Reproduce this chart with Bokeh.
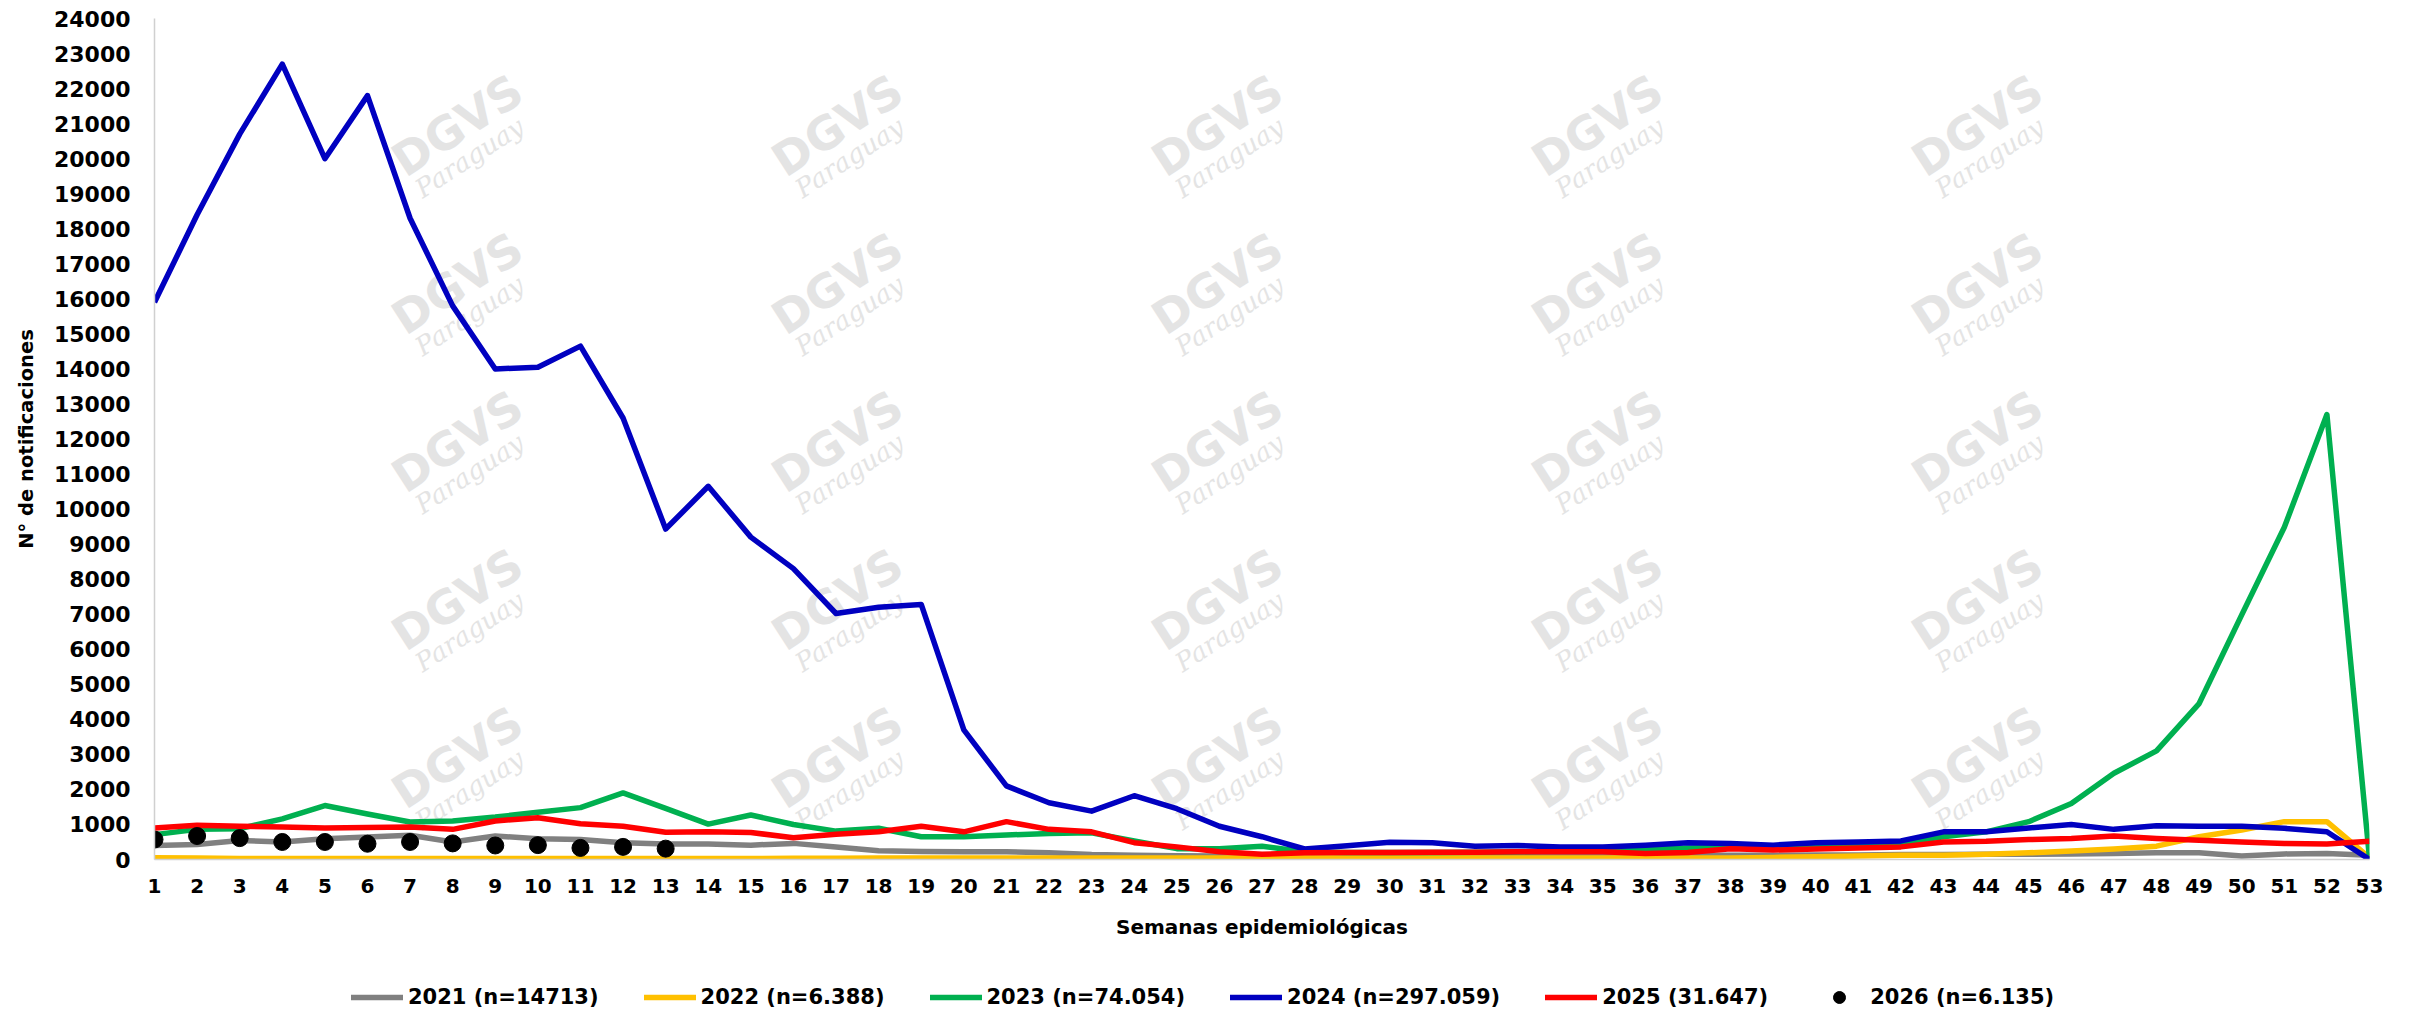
from bokeh.plotting import figure
from bokeh.models import Range1d, FixedTicker, Legend, LegendItem, Label
from bokeh.layouts import column
from bokeh.embed import file_html
from bokeh.resources import INLINE

weeks = list(range(1, 54))
y_ticks = list(range(0, 24001, 1000))

cases_2021 = [400, 430, 540, 500, 590, 640, 690, 500, 670, 590, 570, 480, 440,
              440, 410, 460, 360, 250, 230, 220, 220, 190, 140, 120, 110, 100,
              100, 100, 100, 100, 100, 100, 100, 100, 110, 110, 120, 120, 120,
              130, 130, 140, 140, 150, 150, 160, 170, 190, 190, 100, 160, 170, 120]
cases_2022 = [50, 40, 30, 30, 30, 30, 30, 30, 30, 30, 30, 30, 30,
              30, 30, 35, 35, 40, 40, 40, 40, 40, 40, 40, 40, 40,
              40, 40, 40, 40, 40, 40, 40, 40, 40, 40, 40, 45, 60,
              80, 100, 120, 120, 150, 190, 240, 300, 380, 650, 840, 1080, 1080, 50]
cases_2023 = [710, 860, 880, 1160, 1540, 1300, 1070, 1100, 1210, 1350, 1480, 1900, 1460,
              1010, 1270, 1000, 810, 890, 650, 650, 700, 740, 760, 530, 310, 310,
              380, 220, 200, 200, 200, 210, 220, 250, 280, 300, 330, 350, 360,
              380, 420, 470, 650, 790, 1080, 1600, 2460, 3100, 4450, 6980, 9480, 12700, 30]
cases_2024 = [15900, 18400, 20700, 22700, 20000, 21800, 18300, 15800, 14000, 14050, 14650, 12600, 9430,
              10650, 9200, 8300, 7020, 7200, 7280, 3700, 2100, 1620, 1380, 1820, 1450, 950,
              650, 300, 390, 490, 480, 380, 400, 360, 360, 410, 480, 460, 410,
              480, 500, 530, 790, 790, 900, 1000, 860, 960, 950, 950, 890, 790, 0]
cases_2025 = [900, 980, 950, 930, 900, 910, 930, 860, 1100, 1190, 1020, 950, 780,
              790, 770, 620, 720, 790, 950, 790, 1080, 860, 790, 480, 360, 220,
              150, 190, 200, 200, 210, 210, 220, 220, 220, 170, 200, 310, 270,
              300, 330, 360, 500, 520, 570, 600, 670, 600, 550, 500, 460, 440, 520]
weeks_2026 = list(range(1, 14))
cases_2026 = [570, 670, 610, 500, 500, 450, 500, 460, 400, 410, 330, 360, 310]

labels = ["2021 (n=14713)", "2022 (n=6.388)", "2023 (n=74.054)",
          "2024 (n=297.059)", "2025 (31.647)", "2026 (n=6.135)"]
colors = ["#808080", "#FFC000", "#00B050", "#0000C0", "#FF0000", "#000000"]

FONT = "DejaVu Sans"

p = figure(width=2410, height=960, output_backend="svg", toolbar_location=None,
           x_range=Range1d(1, 53), y_range=Range1d(0, 24000),
           min_border_left=154, min_border_right=41, min_border_top=18, min_border_bottom=101)
p.outline_line_color = None
p.background_fill_color = "white"
p.border_fill_color = "white"
p.xgrid.visible = False
p.ygrid.visible = False

# faint "DGVS Paraguay" watermark (pixel grid converted to data units)
px_per_week = (2369 - 154) / 52.0
px_per_case = (859 - 18) / 24000.0
for wx in (457, 837, 1217, 1597, 1977):
    for wy in (125, 283, 441, 599, 757):
        xd = 1 + (wx - 154) / px_per_week
        yd = (859 - wy) / px_per_case
        p.add_layout(Label(x=xd, y=yd, text="DGVS", angle=33, angle_units="deg",
                           text_font=FONT, text_font_style="bold", text_font_size="46px",
                           text_color="#e4e4e4", text_align="center", text_baseline="middle",
                           level="underlay"))
        xd2 = 1 + (wx + 12 - 154) / px_per_week
        yd2 = (859 - (wy + 32)) / px_per_case
        p.add_layout(Label(x=xd2, y=yd2, text="Paraguay", angle=33, angle_units="deg",
                           text_font="DejaVu Serif", text_font_style="italic", text_font_size="26px",
                           text_color="#e4e4e4", text_align="center", text_baseline="middle",
                           level="underlay"))

series = [cases_2021, cases_2022, cases_2023, cases_2024, cases_2025]
for vals, col in zip(series, colors[:5]):
    p.line(weeks, vals, line_color=col, line_width=5.5, line_join="round")
p.scatter(weeks_2026, cases_2026, size=17, fill_color="black", line_color="black")

# axes
p.xaxis.ticker = FixedTicker(ticks=weeks)
p.yaxis.ticker = FixedTicker(ticks=y_ticks)
for ax in (p.xaxis[0], p.yaxis[0]):
    ax.major_tick_line_color = None
    ax.minor_tick_line_color = None
    ax.major_tick_out = 0
    ax.major_tick_in = 0
    ax.axis_line_color = "#d0d0d0"
    ax.axis_line_width = 1.5
    ax.major_label_text_font = FONT
    ax.major_label_text_font_style = "bold"
    ax.major_label_text_color = "black"
    ax.axis_label_text_font = FONT
    ax.axis_label_text_font_style = "bold"
    ax.axis_label_text_color = "black"

p.yaxis.major_label_text_font_size = "22px"
p.yaxis.major_label_standoff = 24
p.yaxis.axis_label = "N° de notificaciones"
p.yaxis.axis_label_text_font_size = "19.5px"
p.yaxis.axis_label_standoff = 13

p.xaxis.major_label_text_font_size = "20px"
p.xaxis.major_label_standoff = 19
p.xaxis.axis_label = "Semanas epidemiológicas"
p.xaxis.axis_label_text_font_size = "20px"
p.xaxis.axis_label_standoff = 19

# legend strip below the chart (series drawn out of view, used only as legend glyphs)
pl = figure(width=2410, height=52, output_backend="svg", toolbar_location=None,
            x_range=Range1d(1, 53), y_range=Range1d(-2, -1),
            x_axis_location=None, y_axis_location=None, min_border=0)
pl.outline_line_color = None
pl.xgrid.visible = False
pl.ygrid.visible = False
items = []
for vals, lab, col in zip(series, labels[:5], colors[:5]):
    r = pl.line(weeks, vals, line_color=col, line_width=5.5, line_cap="round")
    items.append(LegendItem(label=lab, renderers=[r]))
rd = pl.scatter(weeks_2026, cases_2026, size=17, fill_color="black", line_color="black")
items.append(LegendItem(label=labels[5], renderers=[rd]))

legend = Legend(items=items, orientation="horizontal", location=(197, 0),
                glyph_width=52, glyph_height=30, label_standoff=5, spacing=45,
                padding=0, margin=0, border_line_color=None, background_fill_alpha=0,
                label_text_font=FONT, label_text_font_style="bold",
                label_text_font_size="21px", label_text_color="black")
pl.add_layout(legend, "center")

layout = column(p, pl, spacing=0)
open("out.html", "w").write(file_html(layout, INLINE))
